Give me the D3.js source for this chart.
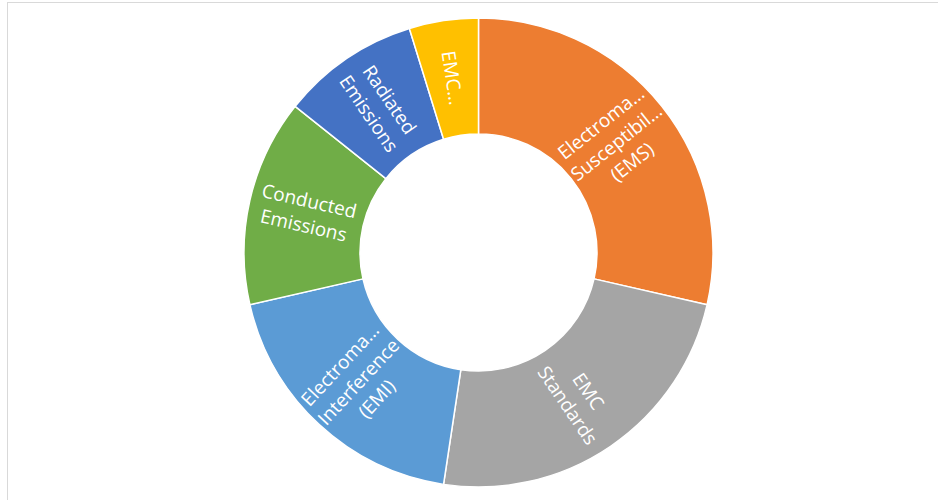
<!DOCTYPE html>
<html>
<head>
<meta charset="utf-8">
<script src="https://cdn.jsdelivr.net/npm/d3@7"></script>
<style>
  html, body { margin: 0; padding: 0; background: #fff; }
  svg { display: block; }
</style>
</head>
<body>
<svg id="chart" width="938" height="500"></svg>
<script>
const categories = [
  "Electromagnetic Susceptibility (EMS)",
  "EMC Standards",
  "Electromagnetic Interference (EMI)",
  "Conducted Emissions",
  "Radiated Emissions",
  "EMC Testing"
];
const values = [6, 5, 4, 3, 2, 1];
const labelLines = [
  ["Electroma…", "Susceptibil…", "(EMS)"],
  ["EMC", "Standards"],
  ["Electroma…", "Interference", "(EMI)"],
  ["Conducted", "Emissions"],
  ["Radiated", "Emissions"],
  ["EMC…"]
];
const colors = ["#ED7D31", "#A5A5A5", "#5B9BD5", "#70AD47", "#4472C4", "#FFC000"];

const svg = d3.select("#chart");
svg.append("rect")
  .attr("x", 7.5).attr("y", 2.5).attr("width", 940).attr("height", 510)
  .attr("fill", "#fff").attr("stroke", "#d9d9d9").attr("stroke-width", 1);

const cx = 478.5, cy = 252.5, outerR = 234.5, innerR = 118.5;
const g = svg.append("g").attr("transform", `translate(${cx},${cy})`);

const pie = d3.pie().value(d => d).sort(null);
const arcs = pie(values);
const arc = d3.arc().innerRadius(innerR).outerRadius(outerR);
const labelArc = d3.arc().innerRadius((innerR + outerR) / 2).outerRadius((innerR + outerR) / 2);

g.selectAll("path.slice").data(arcs).join("path")
  .attr("class", "slice")
  .attr("d", arc)
  .attr("fill", (d, i) => colors[i])
  .attr("stroke", "#fff")
  .attr("stroke-width", 1.5)
  .attr("stroke-linejoin", "round");

const fontSize = 19, lineH = 25;
const labels = g.selectAll("g.label").data(arcs).join("g")
  .attr("class", "label")
  .attr("transform", d => {
    const [x, y] = labelArc.centroid(d);
    const mid = (d.startAngle + d.endAngle) / 2 * 180 / Math.PI;
    const rot = mid < 180 ? mid - 90 : mid - 270;
    return `translate(${x},${y}) rotate(${rot})`;
  });

labels.each(function(d, i) {
  const lines = labelLines[i];
  const t = d3.select(this).append("text")
    .attr("text-anchor", "middle")
    .attr("fill", "#fff")
    .attr("font-family", "'Open Sans', sans-serif")
    .attr("font-size", fontSize);
  const n = lines.length;
  lines.forEach((ln, k) => {
    t.append("tspan")
      .attr("x", 0)
      .attr("y", (k - (n - 1) / 2) * lineH)
      .attr("dy", "0.35em")
      .text(ln);
  });
});
</script>
</body>
</html>
